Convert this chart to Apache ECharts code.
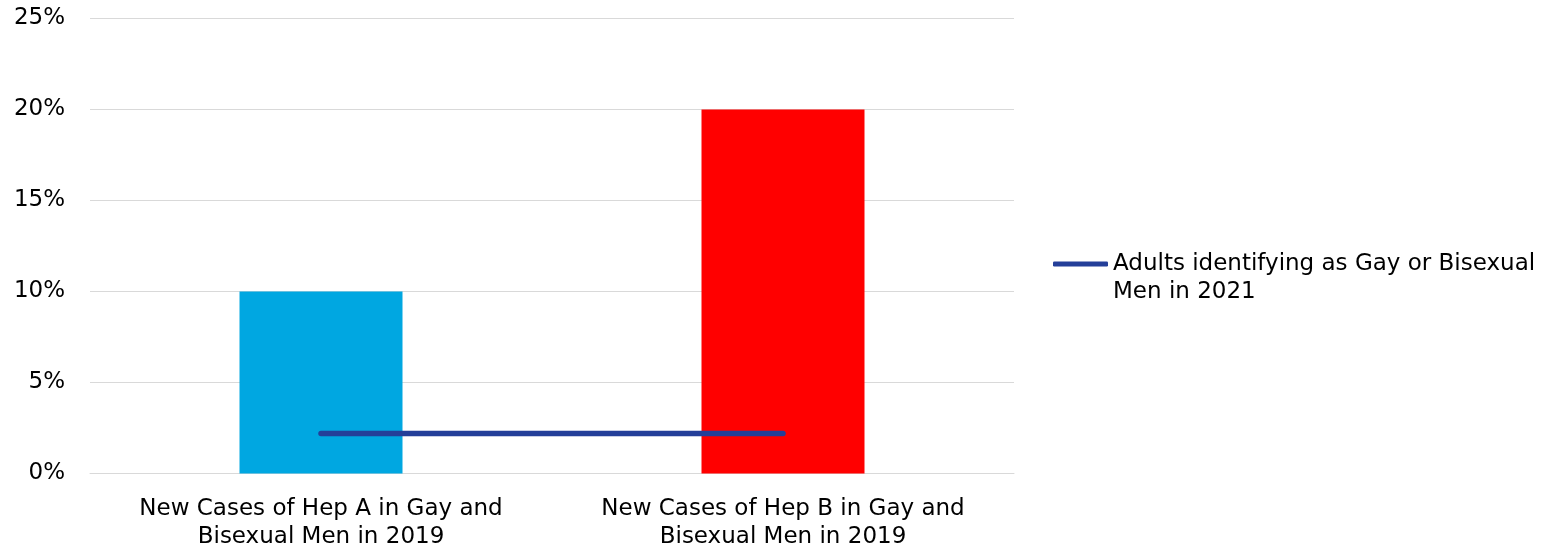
<!DOCTYPE html>
<html>
<head>
<meta charset="utf-8">
<script src="https://cdn.jsdelivr.net/npm/echarts@6/dist/echarts.min.js"></script>
<style>
  html, body { margin: 0; padding: 0; background: #fff; }
  #chart { width: 1567px; height: 546px; }
</style>
</head>
<body>
<div id="chart"></div>
<script>
// Categories along the x axis
const categories = [
  'New Cases of Hep A in Gay and\nBisexual Men in 2019',
  'New Cases of Hep B in Gay and\nBisexual Men in 2019'
];
// Share of new cases (%)
const caseShares = [10, 20];
const barColors = ['#00A7E1', '#FF0000'];
// Share of adults identifying as gay or bisexual men (%)
const lineName = 'Adults identifying as Gay or Bisexual\nMen in 2021';
const adultShares = [2.2, 2.2];
// Y axis range
const yMin = 0, yMax = 25, yStep = 5;

const FONT = 'DejaVu Sans';
const chart = echarts.init(document.getElementById('chart'), null, { renderer: 'canvas' });
chart.setOption({
  animation: false,
  grid: { left: 90, right: 553, top: 18.5, bottom: 72.5, containLabel: false, outerBoundsMode: 'none' },
  legend: {
    show: true,
    left: 1053,
    top: 222,
    itemWidth: 55,
    itemHeight: 5,
    itemGap: 5,
    data: [{ name: lineName, icon: 'roundRect' }],
    // a leading empty line keeps the first text line level with the icon
    formatter: name => '\n' + name,
    textStyle: { fontFamily: FONT, fontSize: 23, color: '#000', lineHeight: 28 },
    padding: 0
  },
  xAxis: {
    type: 'category',
    data: categories,
    axisTick: { show: false },
    axisLine: { show: true, lineStyle: { color: '#D9D9D9', width: 1 } },
    axisLabel: {
      margin: 22,
      fontFamily: FONT,
      fontSize: 23,
      lineHeight: 28,
      color: '#000',
      interval: 0
    }
  },
  yAxis: {
    type: 'value',
    min: yMin,
    max: yMax,
    interval: yStep,
    axisLine: { show: false },
    axisTick: { show: false },
    splitLine: { lineStyle: { color: '#D9D9D9', width: 1 } },
    axisLabel: {
      margin: 25,
      fontFamily: FONT,
      fontSize: 23,
      color: '#000',
      formatter: v => v + '%'
    }
  },
  series: [
    {
      type: 'bar',
      name: 'New cases',
      data: caseShares.map((v, i) => ({ value: v, itemStyle: { color: barColors[i] } })),
      barWidth: 163
    },
    {
      type: 'line',
      name: lineName,
      data: adultShares,
      symbol: 'none',
      lineStyle: { color: '#243F99', width: 5.5, cap: 'round' },
      itemStyle: { color: '#243F99' },
      z: 5
    }
  ]
});
</script>
</body>
</html>
